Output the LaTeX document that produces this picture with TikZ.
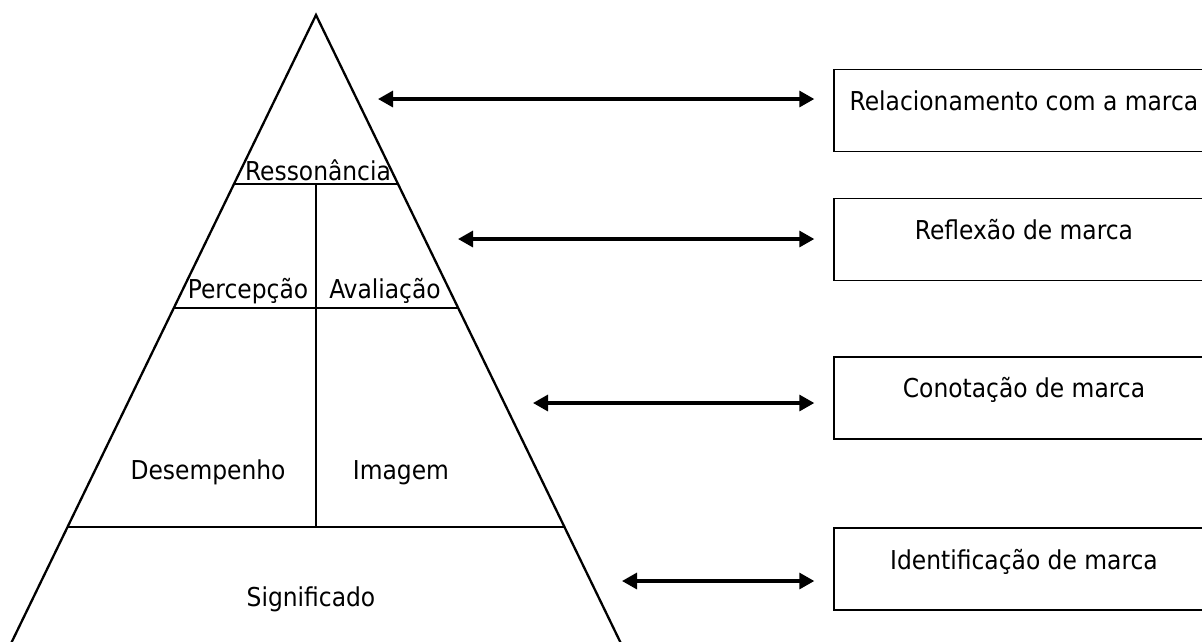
\documentclass[tikz,border=0pt]{standalone}
\usepackage{fontspec}
\setmainfont{DejaVu Sans Condensed}
\usetikzlibrary{arrows.meta}
\begin{document}
\begin{tikzpicture}[x=1pt,y=-1pt,
  edge/.style={line width=2.3pt},
  divider/.style={line width=2.7pt},
  dbl/.style={line width=3.2pt,{Triangle[length=15pt,width=16pt]}-{Triangle[length=15pt,width=16pt]}},
  levelbox/.style={draw,line width=1.4pt,minimum width=380pt,minimum height=82pt,inner sep=0pt},
  txt/.style={font=\fontsize{26}{31}\selectfont,inner sep=0pt,anchor=base}]
\useasboundingbox (0,0) rectangle (1202,641);

% pyramid outline (base lies below the visible area)
\coordinate (apex) at (316,15);
\coordinate (bl) at (2.5,661);
\coordinate (br) at (629.5,661);
\draw[edge] (bl) -- (apex) -- (br);

% horizontal dividers, from side to side
\draw[divider] (234,184) -- (398,184);
\draw[divider] (174,308) -- (458,308);
\draw[divider] (68,527) -- (564,527);
% vertical divider
\draw[divider] (316,184) -- (316,527);

% pyramid labels
\node[txt] (res) at (318,180) {Ressonância};
\node[txt] (per) at (248,298) {Percepção};
\node[txt] (ava) at (385,298) {Avaliação};
\node[txt] (des) at (208,479) {Desempenho};
\node[txt] (ima) at (401,479) {Imagem};
\node[txt] (sig) at (311,606) {Significado};

% level boxes on the right
\node[levelbox] (b1) at (1024,110.5) {};
\node[levelbox] (b2) at (1024,239.5) {};
\node[levelbox] (b3) at (1024,398) {};
\node[levelbox] (b4) at (1024,569) {};
\node[txt] (t1) at ([yshift=-42pt]b1.north) {Relacionamento com a marca};
\node[txt] (t2) at ([yshift=-42pt]b2.north) {Reflexão de marca};
\node[txt] (t3) at ([yshift=-41pt]b3.north) {Conotação de marca};
\node[txt] (t4) at ([yshift=-42pt]b4.north) {Identificação de marca};

% double arrows between pyramid levels and boxes
\coordinate (a1) at (378,99);
\coordinate (a2) at (458,239);
\coordinate (a3) at (533,403);
\coordinate (a4) at (622,581);
\draw[dbl,shorten >=19pt] (a1) -- (a1 -| b1.west);
\draw[dbl,shorten >=19pt] (a2) -- (a2 -| b2.west);
\draw[dbl,shorten >=19pt] (a3) -- (a3 -| b3.west);
\draw[dbl,shorten >=19pt] (a4) -- (a4 -| b4.west);
\end{tikzpicture}
\end{document}
